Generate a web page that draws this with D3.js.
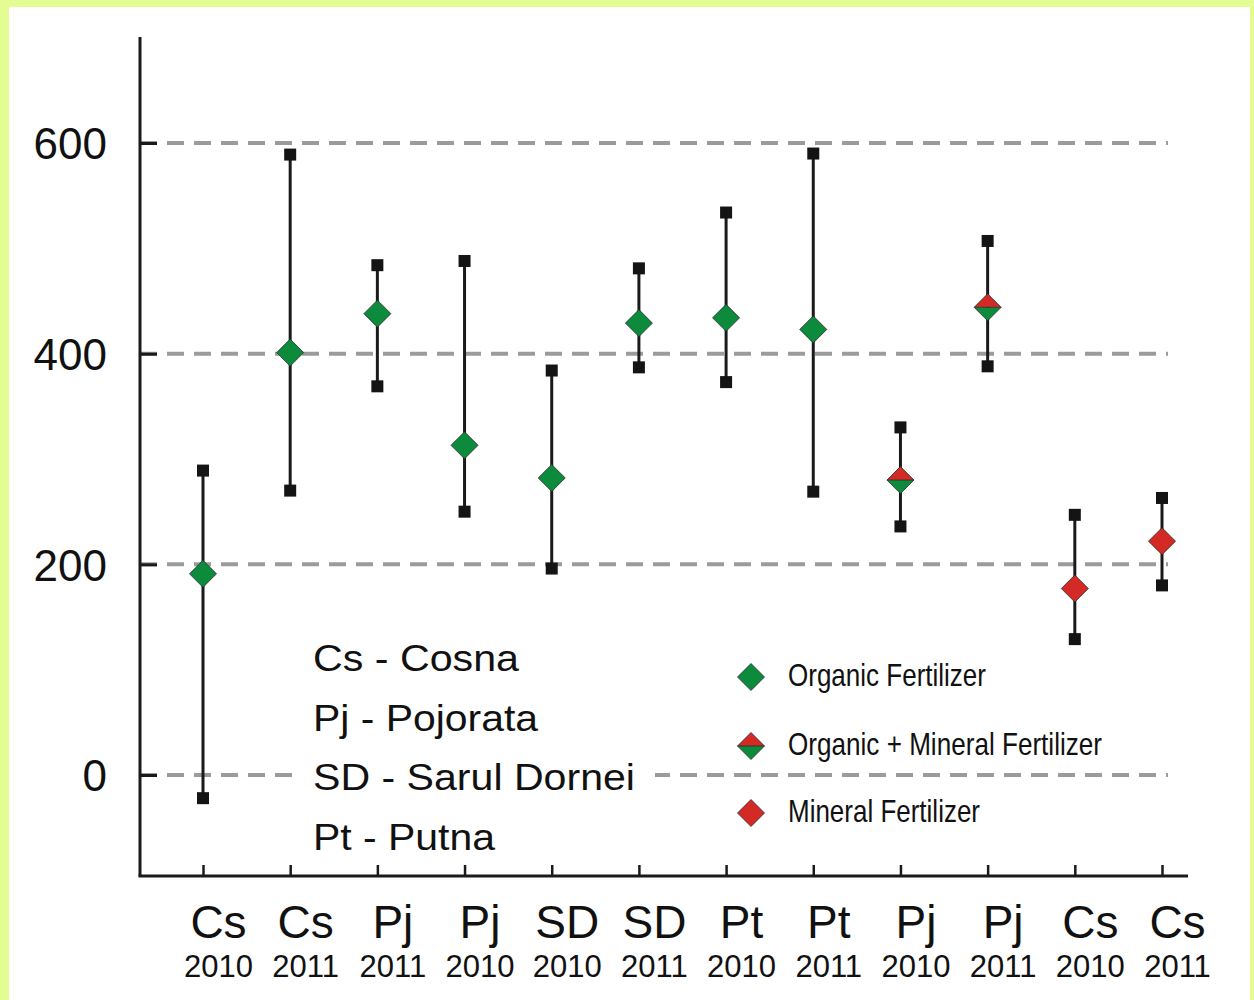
<!DOCTYPE html>
<html>
<head>
<meta charset="utf-8">
<script src="https://cdn.jsdelivr.net/npm/d3@7"></script>
<style>
  html, body { margin: 0; padding: 0; background: #e3fd93; }
  svg { display: block; }
  text { font-family: "Liberation Sans", Arial, Helvetica, sans-serif; fill: #111; }
</style>
</head>
<body>
<svg id="chart" width="1254" height="1000"></svg>
<script>
// ---- data ----
const sites     = ["Cs", "Cs", "Pj", "Pj", "SD", "SD", "Pt", "Pt", "Pj", "Pj", "Cs", "Cs"];
const years     = ["2010", "2011", "2011", "2010", "2010", "2011", "2010", "2011", "2010", "2011", "2010", "2011"];
const means     = [191, 401, 438, 313, 282, 429, 434, 423, 280, 444, 177, 222];
const uppers    = [289, 589, 484, 488, 384, 481, 534, 590, 330, 507, 247, 263];
const lowers    = [-22, 270, 369, 250, 196, 387, 373, 269, 236, 388, 129, 180];
const treatment = ["org", "org", "org", "org", "org", "org", "org", "org", "mix", "mix", "min", "min"];
const yTicks    = [0, 200, 400, 600];
const abbrevs   = ["Cs - Cosna", "Pj - Pojorata", "SD - Sarul Dornei", "Pt - Putna"];
const legendKeys   = ["org", "mix", "min"];
const legendLabels = ["Organic Fertilizer", "Organic + Mineral Fertilizer", "Mineral Fertilizer"];

const GREEN = "#0b8b3b", RED = "#d42a25";

const svg = d3.select("#chart");
// white panel inside the lime frame
svg.append("rect").attr("x", 9).attr("y", 7).attr("width", 1241).attr("height", 993).attr("fill", "#ffffff");

const ids = sites.map((d, i) => i);
const x = d3.scalePoint().domain(ids).range([203, 1162]);
const y = d3.scaleLinear().domain([0, 600]).range([775, 143]);

const axisX0 = 140, axisX1 = 1188, axisTop = 37, axisBottom = 876;

// gridlines
svg.append("g").selectAll("line").data(yTicks).join("line")
  .attr("x1", axisX0).attr("x2", 1168)
  .attr("y1", d => y(d)).attr("y2", d => y(d))
  .attr("stroke", "#9b9b9b").attr("stroke-width", 4)
  .attr("stroke-dasharray", "17 10");

// white box behind abbreviation text
svg.append("rect").attr("x", 300).attr("y", 628).attr("width", 355).attr("height", 240).attr("fill", "#ffffff");
svg.append("g").selectAll("text").data(abbrevs).join("text")
  .attr("x", 313).attr("y", (d, i) => 671 + i * 59.5)
  .attr("font-size", 37)
  .attr("textLength", (d, i) => [206, 225, 322, 182][i])
  .attr("lengthAdjust", "spacingAndGlyphs")
  .text(d => d);

// y axis
const yAxis = d3.axisLeft(y).tickValues(yTicks).tickSizeInner(-17).tickSizeOuter(0).tickPadding(33);
const gy = svg.append("g").attr("transform", `translate(${axisX0},0)`).call(yAxis);
gy.select(".domain").remove();
gy.selectAll(".tick line").attr("stroke", "#1a1a1a").attr("stroke-width", 3);
gy.selectAll(".tick text").attr("font-size", 44).attr("fill", "#111").attr("dy", "0.36em")
  .attr("font-family", "\"Liberation Sans\", Arial, sans-serif");

// x axis
const xAxis = d3.axisBottom(x).tickSizeInner(-11).tickSizeOuter(0).tickFormat(() => "");
const gx = svg.append("g").attr("transform", `translate(0,${axisBottom})`).call(xAxis);
gx.select(".domain").remove();
gx.selectAll(".tick line").attr("stroke", "#1a1a1a").attr("stroke-width", 2.5);
gx.selectAll(".tick text").remove();
gx.selectAll(".tick").append("text").attr("x", 15).attr("y", 62)
  .attr("text-anchor", "middle").attr("font-size", 46).attr("fill", "#111")
  .attr("font-family", "\"Liberation Sans\", Arial, sans-serif")
  .text(i => sites[i]);
gx.selectAll(".tick").append("text").attr("x", 15).attr("y", 101)
  .attr("text-anchor", "middle").attr("font-size", 31).attr("fill", "#111")
  .attr("font-family", "\"Liberation Sans\", Arial, sans-serif")
  .text(i => years[i]);

// axis lines
svg.append("line").attr("x1", axisX0).attr("x2", axisX0).attr("y1", axisTop).attr("y2", axisBottom)
  .attr("stroke", "#1a1a1a").attr("stroke-width", 3);
svg.append("line").attr("x1", axisX0 - 1.5).attr("x2", axisX1).attr("y1", axisBottom).attr("y2", axisBottom)
  .attr("stroke", "#1a1a1a").attr("stroke-width", 3);

// error bars
const eb = svg.append("g");
eb.selectAll("line").data(ids).join("line")
  .attr("x1", i => x(i)).attr("x2", i => x(i))
  .attr("y1", i => y(uppers[i])).attr("y2", i => y(lowers[i]))
  .attr("stroke", "#1a1a1a").attr("stroke-width", 3);
const cap = 12;
eb.selectAll("rect.up").data(ids).join("rect").attr("class", "up")
  .attr("x", i => x(i) - cap / 2).attr("y", i => y(uppers[i]) - cap / 2)
  .attr("width", cap).attr("height", cap).attr("fill", "#141414");
eb.selectAll("rect.lo").data(ids).join("rect").attr("class", "lo")
  .attr("x", i => x(i) - cap / 2).attr("y", i => y(lowers[i]) - cap / 2)
  .attr("width", cap).attr("height", cap).attr("fill", "#141414");

// diamond drawing
const R = 13.5;
function drawDiamond(g, cx, cy, kind) {
  if (kind === "mix") {
    g.append("path").attr("d", `M${cx - R},${cy} L${cx},${cy - R} L${cx + R},${cy} Z`).attr("fill", RED);
    g.append("path").attr("d", `M${cx - R},${cy} L${cx},${cy + R} L${cx + R},${cy} Z`).attr("fill", GREEN);
    g.append("path").attr("d", `M${cx - R},${cy} L${cx},${cy - R} L${cx + R},${cy} L${cx},${cy + R} Z M${cx - R},${cy} L${cx + R},${cy}`)
      .attr("fill", "none").attr("stroke", "#2a2a2a").attr("stroke-width", 0.8);
  } else {
    g.append("path").attr("d", `M${cx - R},${cy} L${cx},${cy - R} L${cx + R},${cy} L${cx},${cy + R} Z`)
      .attr("fill", kind === "org" ? GREEN : RED).attr("stroke", "#2a2a2a").attr("stroke-width", 0.8);
  }
}

const mg = svg.append("g");
ids.forEach(i => drawDiamond(mg, x(i), y(means[i]), treatment[i]));

// legend
const lg = svg.append("g");
const legY = [677, 746, 813];
legendKeys.forEach((k, j) => {
  drawDiamond(lg, 751, legY[j], k);
  lg.append("text").attr("x", 788).attr("y", legY[j] + 8.5)
    .attr("font-size", 32)
    .attr("font-family", "\"Liberation Sans Narrow\", \"Arial Narrow\", \"Liberation Sans\", Arial, sans-serif")
    .attr("textLength", [198, 314, 192][j]).attr("lengthAdjust", "spacingAndGlyphs")
    .text(legendLabels[j]);
});
</script>
</body>
</html>
